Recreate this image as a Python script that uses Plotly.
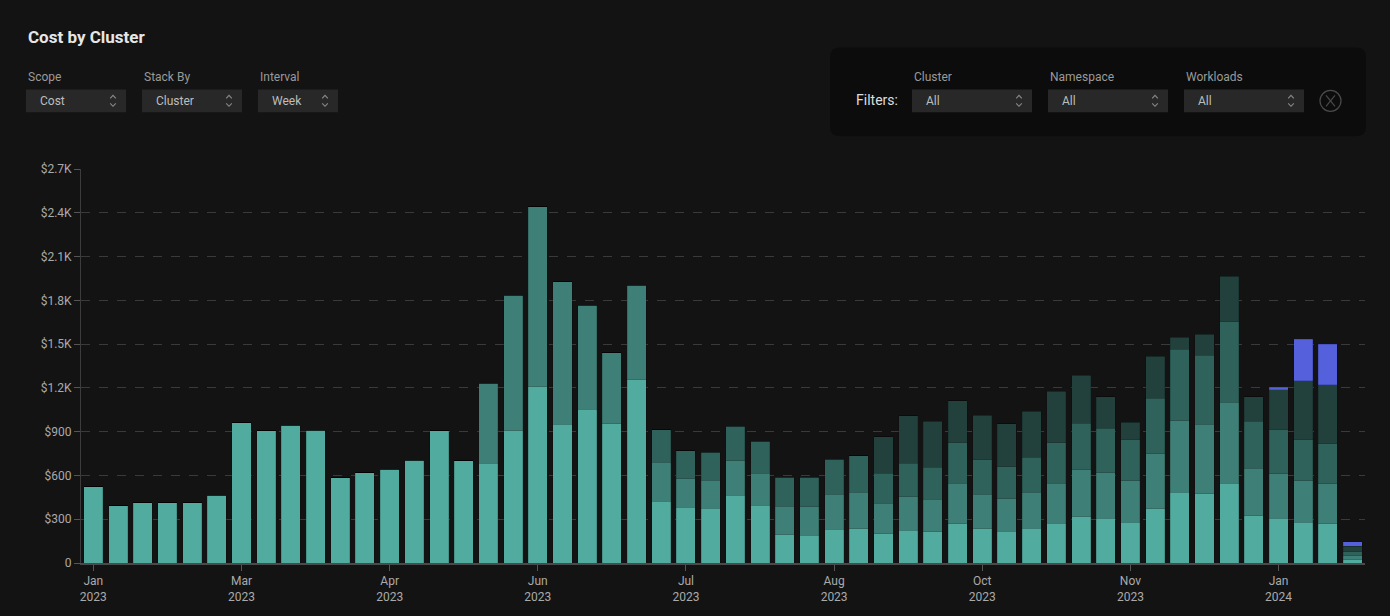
import plotly.graph_objects as go

# ---------------- data ----------------
weeks = list(range(52))
tick_pos = [0, 6, 12, 18, 24, 30, 36, 42, 48]
tick_text = ["Jan<br>2023", "Mar<br>2023", "Apr<br>2023", "Jun<br>2023", "Jul<br>2023",
             "Aug<br>2023", "Oct<br>2023", "Nov<br>2023", "Jan<br>2024"]
y_tickvals = [0, 300, 600, 900, 1200, 1500, 1800, 2100, 2400, 2700]
y_ticktext = ["0", "$300", "$600", "$900", "$1.2K", "$1.5K", "$1.8K", "$2.1K", "$2.4K", "$2.7K"]

cluster_1 = [523, 391, 414, 414, 414, 464, 961, 905, 943, 909, 584, 620, 641, 704, 905, 700,
             682, 907, 1207, 950, 1055, 955, 1257, 422, 382, 376, 466, 395, 193, 191, 232, 236,
             202, 225, 214, 268, 234, 218, 239, 271, 316, 305, 280, 373, 486, 473, 548, 323,
             305, 280, 270, 23]
cluster_2 = [0] * 16 + [550, 927, 1236, 977, 711, 486, 645, 268, 195, 191, 236, 221, 196, 195,
                        238, 248, 207, 230, 222, 277, 236, 223, 247, 277, 323, 313, 284, 377,
                        489, 477, 552, 327, 307, 284, 273, 27]
cluster_3 = [0] * 23 + [222, 193, 191, 234, 220, 197, 200, 241, 250, 207, 227, 221, 280, 239,
                        220, 239, 277, 318, 307, 281, 380, 489, 475, 552, 323, 302, 281, 273, 27]
cluster_4 = [0] * 32 + [250, 327, 316, 286, 305, 294, 316, 352, 329, 214, 121, 288, 82, 141,
                        314, 168, 272, 403, 407, 39]
cluster_5 = [0] * 48 + [19, 286, 275, 29]

series = [
    ("cluster-prod", cluster_1, "#52ab9f"),
    ("cluster-staging", cluster_2, "#3e8077"),
    ("cluster-dev", cluster_3, "#2f625b"),
    ("cluster-qa", cluster_4, "#22413d"),
    ("cluster-new", cluster_5, "#5460dc"),
]

# ---------------- geometry helpers ----------------
W, H = 1390, 616
L, R, T, B = 81, 1365, 169, 565


def px(x):
    return (x - L) / (R - L)


def py(y):
    return (B - y) / (B - T)


fig = go.Figure()
for name, vals, col in series:
    fig.add_trace(go.Bar(
        x=weeks, y=vals, name=name,
        marker=dict(color=col, line=dict(color="rgba(0,0,0,0.18)", width=0.8)),
        hovertemplate="%{y:$,.0f}<extra>" + name + "</extra>",
    ))

shapes = []
annotations = []

BG = "#131313"
LABEL = "#9a9a9a"


def add_text(x, y, text, size=12, color=LABEL, bold=False, anchor="left"):
    annotations.append(dict(
        xref="paper", yref="paper", x=px(x), y=py(y), text=("<b>%s</b>" % text) if bold else text,
        showarrow=False, xanchor=anchor, yanchor="middle",
        font=dict(family="Roboto, sans-serif", size=size, color=color)))


def chevrons(cx, cy):
    for d in (-1, 1):
        tip = cy + d * 5.5
        base = cy + d * 2.5
        path = "M %f %f L %f %f L %f %f" % (px(cx - 2.8), py(base), px(cx), py(tip), px(cx + 2.8), py(base))
        shapes.append(dict(type="path", xref="paper", yref="paper", path=path,
                           line=dict(color="#8a8a8a", width=1.1)))


def dropdown(x0, x1, label, value):
    add_text(x0, 77, label, size=12, color=LABEL)
    shapes.append(dict(type="rect", xref="paper", yref="paper",
                       x0=px(x0), x1=px(x1), y0=py(112), y1=py(89),
                       fillcolor="#282828", line=dict(width=0)))
    add_text(x0 + 12, 101, value, size=12, color="#bdbdbd")
    chevrons(x1 - 13, 100.5)


# title
add_text(26, 36, "Cost by Cluster", size=17, color="#e6e6e6", bold=True)

# left controls
dropdown(26, 126, "Scope", "Cost")
dropdown(142, 242, "Stack By", "Cluster")
dropdown(258, 338, "Interval", "Week")

# filter panel (rounded rect)
x0, x1, y0, y1, r = 830, 1366, 47, 136, 10
path = ("M %f %f L %f %f Q %f %f %f %f L %f %f Q %f %f %f %f L %f %f Q %f %f %f %f L %f %f Q %f %f %f %f Z" % (
    px(x0 + r), py(y0), px(x1 - r), py(y0),
    px(x1), py(y0), px(x1), py(y0 + r),
    px(x1), py(y1 - r),
    px(x1), py(y1), px(x1 - r), py(y1),
    px(x0 + r), py(y1),
    px(x0), py(y1), px(x0), py(y1 - r),
    px(x0), py(y0 + r),
    px(x0), py(y0), px(x0 + r), py(y0)))
shapes.append(dict(type="path", xref="paper", yref="paper", path=path,
                   fillcolor="#0c0c0c", line=dict(width=0), layer="below"))

add_text(854, 100, "Filters:", size=14, color="#dddddd")
dropdown(912, 1032, "Cluster", "All")
dropdown(1048, 1168, "Namespace", "All")
dropdown(1184, 1304, "Workloads", "All")

# close button
shapes.append(dict(type="circle", xref="paper", yref="paper",
                   x0=px(1320), x1=px(1341), y0=py(111), y1=py(90),
                   line=dict(color="#4a4a4a", width=1.2)))
for (a, b, c, d) in [(1326, 95, 1335, 106), (1326, 106, 1335, 95)]:
    shapes.append(dict(type="line", xref="paper", yref="paper",
                       x0=px(a), y0=py(b), x1=px(c), y1=py(d),
                       line=dict(color="#4a4a4a", width=1.2)))

fig.update_layout(
    width=W, height=H,
    margin=dict(l=L, r=W - R, t=T, b=H - B, pad=0),
    paper_bgcolor=BG, plot_bgcolor=BG,
    barmode="stack", bargap=0.23,
    showlegend=False,
    font=dict(family="Roboto, sans-serif", size=12, color="#b0b0b0"),
    shapes=shapes, annotations=annotations,
    xaxis=dict(
        range=[-0.5, 51.5], tickmode="array", tickvals=tick_pos, ticktext=tick_text,
        showgrid=False, zeroline=False, showline=True, linecolor="#4a4a4a", linewidth=2,
        ticks="outside", ticklen=6, tickcolor="#555555", tickwidth=1,
        tickfont=dict(size=12, color="#aaaaaa"), fixedrange=True,
    ),
    yaxis=dict(
        range=[0, 2700], tickmode="array", tickvals=y_tickvals, ticktext=y_ticktext,
        showgrid=True, gridcolor="#3a3a3a", griddash="dash", gridwidth=1,
        zeroline=False, showline=True, linecolor="#3c3c3c", linewidth=1,
        ticks="outside", ticklen=6, tickcolor="#555555",
        tickfont=dict(size=12, color="#aaaaaa"), fixedrange=True,
    ),
)

fig.write_html(
    "out.html",
    config={"displayModeBar": False},
    post_script="document.body.style.margin='0';document.body.style.background='%s';" % BG,
)
